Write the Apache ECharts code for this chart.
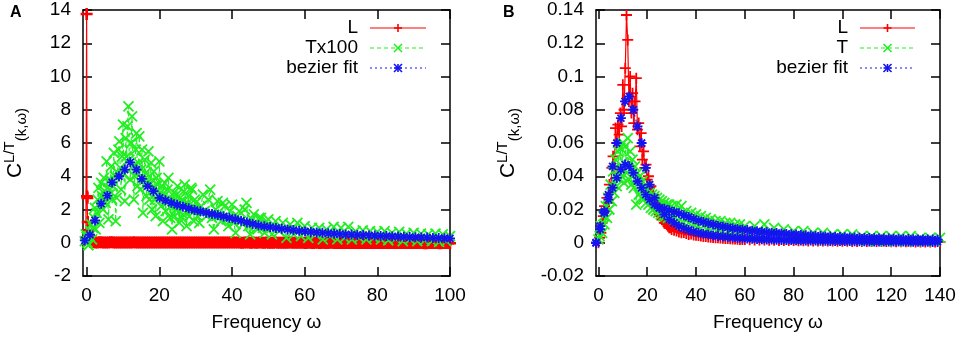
<!DOCTYPE html>
<html>
<head>
<meta charset="utf-8">
<title>C L/T(k,w) spectra</title>
<script src="https://cdn.jsdelivr.net/npm/echarts@6.0.0/dist/echarts.min.js"></script>
<style>
  html, body { margin: 0; padding: 0; background: #fff; }
  #chart { width: 957px; height: 337px; }
</style>
</head>
<body>
<div id="chart"></div>
<script>
// ---- panel A : L and Tx100 ----
const freqLA = [-0.2, 0, 0.1, 0.2, 0.3, 0.4, 0.5,
  1, 1.5, 2, 2.5, 3, 3.5, 4, 4.5, 5, 5.5, 6, 6.5, 7, 7.5, 8, 8.5, 9, 9.5, 10, 10.5,
  11, 11.5, 12, 12.5, 13, 13.5, 14, 14.5, 15, 15.5, 16, 16.5, 17, 17.5, 18, 18.5, 19, 19.5, 20, 20.5,
  21, 21.5, 22, 22.5, 23, 23.5, 24, 24.5, 25, 25.5, 26, 26.5, 27, 27.5, 28, 28.5, 29, 29.5, 30, 30.5,
  31, 31.5, 32, 32.5, 33, 33.5, 34, 34.5, 35, 35.5, 36, 36.5, 37, 37.5, 38, 38.5, 39, 39.5, 40, 40.5,
  41, 41.5, 42, 42.5, 43, 43.5, 44, 44.5, 45, 45.5, 46, 46.5, 47, 47.5, 48, 48.5, 49, 49.5, 50, 50.5,
  51, 51.5, 52, 52.5, 53, 53.5, 54, 54.5, 55, 55.5, 56, 56.5, 57, 57.5, 58, 58.5, 59, 59.5, 60, 60.5,
  61, 61.5, 62, 62.5, 63, 63.5, 64, 64.5, 65, 65.5, 66, 66.5, 67, 67.5, 68, 68.5, 69, 69.5, 70, 70.5,
  71, 71.5, 72, 72.5, 73, 73.5, 74, 74.5, 75, 75.5, 76, 76.5, 77, 77.5, 78, 78.5, 79, 79.5, 80, 80.5,
  81, 81.5, 82, 82.5, 83, 83.5, 84, 84.5, 85, 85.5, 86, 86.5, 87, 87.5, 88, 88.5, 89, 89.5, 90, 90.5,
  91, 91.5, 92, 92.5, 93, 93.5, 94, 94.5, 95, 95.5, 96, 96.5, 97, 97.5, 98, 98.5, 99, 99.5, 100];
const valLA = [0.3, 13.76, 2.8, 2.7, 1.25, 0.75, 0.3,
  0.05, 0.04, 0.03, 0.02, 0.02, 0.03, 0.03, 0.02, 0.01, 0.02, 0.02, 0.03, 0.03, 0.02, 0.02, 0.01, 0.01, 0.02, 0.02, 0.01,
  0.02, 0.01, 0.01, 0.02, 0.03, 0.02, 0.02, 0.01, 0.01, 0.02, 0.02, 0.01, 0.01, 0.02, 0.02, 0.01, 0.02, 0.01, 0.01, 0.02,
  0.02, 0.01, 0.01, 0.01, 0.01, 0.02, 0.01, 0.01, 0.02, 0.01, 0.02, 0.01, 0.01, 0.01, 0.01, 0.02, 0.01, 0.01, 0.02, 0.01,
  0.01, 0.01, 0.02, 0.01, 0.01, 0.01, 0.01, 0.01, 0.02, 0.01, 0.01, 0.01, 0.01, 0.01, 0.01, 0.01, 0.01, 0.01, 0.01, 0.01,
  0.01, 0.01, 0.01, 0, 0, 0.01, 0.01, 0.01, 0, 0, 0.01, 0, 0, 0.01, 0.01, 0, 0, 0.01, 0, 0,
  0, 0, 0.01, 0, 0, 0, 0, 0, 0, 0, 0.01, 0, 0, 0, 0, 0, 0, 0, -0.01, -0.01,
  0, 0, -0.01, -0.01, 0, 0, -0.01, -0.01, 0, -0.01, -0.01, -0.01, 0, 0, -0.01, -0.01, -0.01, -0.01, -0.01, -0.01,
  -0.01, -0.01, -0.01, -0.01, -0.02, -0.02, -0.01, -0.01, -0.01, -0.01, -0.02, -0.02, -0.01, -0.01, -0.02, -0.02, -0.01, -0.01, -0.02, -0.02,
  -0.02, -0.02, -0.01, -0.01, -0.02, -0.02, -0.02, -0.02, -0.01, -0.01, -0.02, -0.02, -0.02, -0.02, -0.02, -0.02, -0.01, -0.01, -0.02, -0.02,
  -0.02, -0.02, -0.02, -0.02, -0.03, -0.03, -0.02, -0.02, -0.02, -0.02, -0.02, -0.02, -0.03, -0.03, -0.02, -0.02, -0.02, -0.02, -0.03];

const freqTA = [-0.5, -0.25, 0, 0.25, 0.5, 0.75, 1, 1.25, 1.5, 1.75, 2, 2.25, 2.5, 2.75, 3, 3.25, 3.5, 3.75, 4, 4.25,
  4.5, 4.75, 5, 5.25, 5.5, 5.75, 6, 6.25, 6.5, 6.75, 7, 7.25, 7.5, 7.75, 8, 8.25, 8.5, 8.75, 9, 9.25,
  9.5, 9.75, 10, 10.25, 10.5, 10.75, 11, 11.25, 11.5, 11.75, 12, 12.25, 12.5, 12.75, 13, 13.25, 13.5, 13.75, 14, 14.25,
  14.5, 14.75, 15, 15.25, 15.5, 15.75, 16, 16.25, 16.5, 16.75, 17, 17.25, 17.5, 17.75, 18, 18.25, 18.5, 18.75, 19, 19.25,
  19.5, 19.75, 20, 20.25, 20.5, 20.75, 21, 21.25, 21.5, 21.75, 22, 22.25, 22.5, 22.75, 23, 23.25, 23.5, 23.75, 24, 24.25,
  24.5, 24.75, 25, 25.25, 25.5, 25.75, 26, 26.25, 26.5, 26.75, 27, 27.25, 27.5, 27.75, 28, 28.25, 28.5, 28.75, 29, 29.25,
  29.5, 29.75, 30,
  30.5, 31, 31.5, 32, 32.5, 33, 33.5, 34, 34.5, 35, 35.5, 36, 36.5, 37, 37.5, 38, 38.5, 39, 39.5, 40,
  40.5, 41, 41.5, 42, 42.5, 43, 43.5, 44, 44.5, 45, 45.5, 46, 46.5, 47, 47.5, 48, 48.5, 49, 49.5, 50,
  51, 52, 53, 54, 55, 56, 57, 58, 59, 60, 61, 62, 63, 64, 65, 66, 67, 68, 69, 70,
  71, 72, 73, 74, 75, 76, 77, 78, 79, 80, 81, 82, 83, 84, 85, 86, 87, 88, 89, 90,
  91, 92, 93, 94, 95, 96, 97, 98, 99, 100];
const valTA = [0.1, 0.5, 0.35, 0.0, -0.15, 0.4, 0.7, 1.1, 0.2, 0.9, 1.5, 2.1, 0.8, 1.8, 2.6, 3.3, 1.2, 2.2, 3.6, 2.8,
  2.0, 3.9, 3.1, 2.4, 4.9, 3.3, 1.4, 2.9, 3.8, 4.6, 2.6, 3.4, 5.4, 4.0, 1.3, 2.7, 4.2, 5.6, 6.1, 4.5,
  3.2, 5.2, 7.1, 4.1, 2.5, 6.3, 5.2, 7.0, 8.2, 5.0, 3.8, 6.0, 7.6, 4.6, 2.6, 4.0, 5.6, 6.6, 3.4, 4.8,
  6.4, 3.2, 4.4, 5.6, 1.8, 3.8, 5.0, 4.2, 2.8, 3.6, 5.5, 2.6, 3.6, 4.8, 2.0, 3.3, 4.3, 2.6, 1.6, 3.9,
  3.5, 2.8, 4.9, 3.0, 2.2, 3.4, 1.3, 2.8, 3.6, 1.9, 2.4, 3.2, 3.9, 2.6, 1.5, 2.2, 0.8, 2.5, 3.0, 1.6,
  2.0, 2.9, 3.4, 2.3, 1.2, 2.7, 2.5, 1.5, 1.7, 3.1, 3.5, 2.2, 1.0, 2.4, 2.8, 1.6, 2.0, 3.3, 3.2, 2.0,
  1.3, 2.6, 2.4,
  1.6, 1.2, 2.2, 2.9, 1.9, 1.6, 2.6, 3.2, 1.5, 0.8, 2.0, 2.5, 1.6, 1.3, 2.4, 2.2, 1.4, 1.0, 1.9, 2.3,
  1.2, 0.6, 1.6, 1.9, 1.3, 1.1, 2.0, 2.4, 1.0, 0.5, 1.4, 1.7, 1.1, 0.8, 1.5, 1.5, 0.9, 0.6, 1.3, 1.4,
  0.5, 1.3, 0.7, 1.2, 0.3, 1.1, 0.5, 1.2, 0.4, 1.0, 0.3, 0.9, 0.5, 0.9, 0.2, 0.8, 0.4, 0.95, 0.2, 0.9,
  0.3, 0.95, 0.2, 0.7, 0.3, 0.75, 0.2, 0.7, 0.3, 0.65, 0.2, 0.7, 0.15, 0.6, 0.25, 0.65, 0.1, 0.55, 0.2, 0.6,
  0.1, 0.55, 0.15, 0.5, 0.1, 0.55, 0.05, 0.5, 0.1, 0.4];

const fitFreqA = [-0.5, 0.9, 2.3, 4.0, 5.7, 7.0, 8.9, 10.5, 12.0, 13.7, 15.2, 16.8, 18.4, 20.1,
  21.7, 23.3, 24.9, 26.5, 28.1, 29.7, 31.3, 32.9, 34.5, 36.1,
  37.7, 39.3, 40.9, 42.5, 44.1, 45.7, 47.3, 48.9, 50.5, 52.1,
  53.7, 55.3, 56.9, 58.5, 60.1, 61.7, 63.3, 64.9, 66.5, 68.1,
  69.7, 71.3, 72.9, 74.5, 76.1, 77.7, 79.3, 80.9, 82.5, 84.1,
  85.7, 87.3, 88.9, 90.5, 92.1, 93.7, 95.3, 96.9, 98.5, 100];
const fitA = [0.14, 0.48, 1.34, 2.35, 2.83, 3.63, 4.0, 4.4, 4.84, 4.4, 3.84, 3.4, 3.1, 2.7,
  2.55, 2.4, 2.28, 2.17, 2.07, 1.97, 1.89, 1.81, 1.73, 1.66,
  1.58, 1.5, 1.42, 1.33, 1.22, 1.13, 1.05, 0.99, 0.94, 0.89,
  0.84, 0.8, 0.76, 0.72, 0.68, 0.65, 0.62, 0.6, 0.57, 0.55,
  0.52, 0.5, 0.49, 0.47, 0.46, 0.44, 0.43, 0.41, 0.4, 0.38,
  0.37, 0.36, 0.34, 0.33, 0.32, 0.31, 0.29, 0.28, 0.27, 0.26];

// ---- panel B : L and T ----
const freqB = [0, 0.5, 1, 1.5, 2, 2.5, 3, 3.5, 4, 4.5, 5, 5.5, 6, 6.5, 7, 7.5, 8, 8.5, 9, 9.5,
  10, 10.5, 11, 11.5, 12, 12.5, 13, 13.5, 14, 14.5, 15, 15.5, 16, 16.5, 17, 17.5, 18, 18.5, 19, 19.5,
  20, 20.5, 21, 21.5, 22, 22.5, 23, 23.5, 24, 24.5, 25, 25.5, 26, 26.5, 27, 27.5, 28, 28.5, 29, 29.5, 30,
  31, 32, 33, 34, 35, 36, 37, 38, 39, 40, 41, 42, 43, 44, 45, 46, 47, 48, 49, 50,
  51, 52, 53, 54, 55, 56, 57, 58, 59, 60,
  62, 64, 66, 68, 70, 72, 74, 76, 78, 80, 82, 84, 86, 88, 90, 92, 94, 96, 98, 100,
  102, 104, 106, 108, 110, 112, 114, 116, 118, 120, 122, 124, 126, 128, 130, 132, 134, 136, 138, 140];
const valLB = [0, 0.003, 0.006, 0.012, 0.016, 0.022, 0.019, 0.027, 0.024, 0.035,
  0.03, 0.045, 0.052, 0.045, 0.069, 0.06, 0.071, 0.065, 0.078, 0.07,
  0.095, 0.08, 0.105, 0.137, 0.122, 0.085, 0.1, 0.078, 0.09, 0.072,
  0.085, 0.099, 0.068, 0.072, 0.058, 0.066, 0.05, 0.055, 0.045, 0.047,
  0.038, 0.04, 0.033, 0.034, 0.028, 0.029, 0.024, 0.023, 0.02, 0.019,
  0.017, 0.016, 0.014, 0.014, 0.012, 0.012, 0.011, 0.01, 0.009, 0.009, 0.008,
  0.0075, 0.007, 0.0065, 0.006, 0.0062, 0.0055, 0.005, 0.0052, 0.0047, 0.0045,
  0.0043, 0.004, 0.0038, 0.0037, 0.0035, 0.0033, 0.0032, 0.003, 0.003, 0.0028,
  0.0027, 0.0026, 0.0025, 0.0024, 0.0023, 0.0022, 0.0021, 0.002, 0.002, 0.0019,
  0.0018, 0.0017, 0.0017, 0.0016, 0.0015, 0.0015, 0.0014, 0.0014, 0.0013, 0.0013,
  0.0012, 0.0012, 0.0011, 0.0011, 0.0011, 0.001, 0.001, 0.001, 0.0009, 0.0009,
  0.0009, 0.0008, 0.0008, 0.0008, 0.0008, 0.0007, 0.0007, 0.0007, 0.0007, 0.0006,
  0.0006, 0.0006, 0.0006, 0.0006, 0.0005, 0.0005, 0.0005, 0.0005, 0.0005, 0.0005];
const valTB = [0.002, 0.004, 0.01, 0.006, 0.016, 0.011, 0.022, 0.015, 0.027, 0.02,
  0.035, 0.025, 0.043, 0.03, 0.05, 0.034, 0.055, 0.038, 0.057, 0.04,
  0.06, 0.036, 0.058, 0.042, 0.063, 0.038, 0.055, 0.035, 0.05, 0.033,
  0.046, 0.023, 0.042, 0.029, 0.04, 0.027, 0.037, 0.026, 0.034, 0.024,
  0.032, 0.023, 0.03, 0.021, 0.029, 0.02, 0.028, 0.019, 0.027, 0.018,
  0.026, 0.017, 0.025, 0.016, 0.024, 0.016, 0.023, 0.015, 0.023, 0.015, 0.022,
  0.014, 0.023, 0.013, 0.022, 0.012, 0.019, 0.012, 0.018, 0.011, 0.017,
  0.01, 0.016, 0.01, 0.015, 0.009, 0.014, 0.009, 0.013, 0.008, 0.013,
  0.007, 0.012, 0.007, 0.012, 0.006, 0.011, 0.006, 0.011, 0.005, 0.01,
  0.005, 0.01, 0.005, 0.011, 0.004, 0.009, 0.004, 0.008, 0.003, 0.007,
  0.003, 0.007, 0.003, 0.006, 0.002, 0.006, 0.002, 0.005, 0.002, 0.005,
  0.002, 0.005, 0.002, 0.004, 0.001, 0.004, 0.001, 0.004, 0.001, 0.004,
  0.001, 0.004, 0.001, 0.004, 0.001, 0.003, 0.001, 0.003, 0.001, 0.003];

const fitFreqB = [-1, 0.7, 2.4, 4.1, 5.8, 7.5, 9.2, 10.9, 12.6, 14.3, 16, 17.7, 19.4,
  21, 23, 25, 27, 29, 31, 33, 35, 37, 39, 41, 43, 45, 47, 49, 51, 53, 55, 57, 59,
  61, 63, 65, 67, 69, 71, 73, 75, 77, 79, 81, 83, 85, 87, 89, 91, 93, 95, 97, 99,
  101, 103, 105, 107, 109, 111, 113, 115, 117, 119, 121, 123, 125, 127, 129, 131, 133, 135, 137, 139];
const fitLB = [0, 0.008, 0.019, 0.029, 0.046, 0.06, 0.075, 0.085, 0.088, 0.08, 0.07, 0.06, 0.045,
  0.035, 0.027, 0.021, 0.017, 0.014, 0.012, 0.01, 0.0088, 0.0077, 0.0068,
  0.006, 0.0054, 0.0049, 0.0044, 0.004, 0.0037, 0.0034, 0.0031, 0.0029, 0.0027,
  0.0025, 0.0024, 0.0022, 0.0021, 0.002, 0.0019, 0.0018, 0.0017, 0.0016, 0.0016,
  0.0015, 0.0014, 0.0014, 0.0013, 0.0013, 0.0012, 0.0012, 0.0011, 0.0011, 0.001,
  0.001, 0.001, 0.0009, 0.0009, 0.0009, 0.0008, 0.0008, 0.0008, 0.0008, 0.0007,
  0.0007, 0.0007, 0.0007, 0.0006, 0.0006, 0.0006, 0.0006, 0.0006, 0.0005, 0.0005];
const fitTB = [0, 0.01, 0.018, 0.026, 0.033, 0.039, 0.044, 0.047, 0.046, 0.042, 0.037, 0.033, 0.029,
  0.026, 0.023, 0.021, 0.0205, 0.0195, 0.0185, 0.0177, 0.0165, 0.0155, 0.0143,
  0.0133, 0.0125, 0.0117, 0.011, 0.0103, 0.0097, 0.0092, 0.0087, 0.0083, 0.0079,
  0.0076, 0.0072, 0.0069, 0.0066, 0.0063, 0.006, 0.0058, 0.0056, 0.0053, 0.0051,
  0.0049, 0.0047, 0.0045, 0.0043, 0.0041, 0.004, 0.0038, 0.0037, 0.0035, 0.0034,
  0.0033, 0.0032, 0.0031, 0.003, 0.0029, 0.0028, 0.0027, 0.0026, 0.0025, 0.0025,
  0.0024, 0.0023, 0.0022, 0.0022, 0.0021, 0.002, 0.002, 0.0019, 0.0019, 0.0018];

const ticksA = [0, 20, 40, 60, 80, 100];
const ticksB = [0, 20, 40, 60, 80, 100, 120, 140];

const red = '#ff0000', green = '#22ee22', blue = '#1414f0', black = '#000';
const font = 'Liberation Sans';
const symbols = {
  plus: 'path://M5,0L5,10M0,5L10,5',
  cross: 'path://M0,0L10,10M10,0L0,10',
  star: 'path://M5,0L5,10M0,5L10,5M1.5,1.5L8.5,8.5M8.5,1.5L1.5,8.5'
};

const pairs = (xs, ys) => xs.map((x, i) => [x, ys[i]]);

function makeX(gridIndex, max, ticks, bottom) {
  return {
    type: 'value', gridIndex: gridIndex, min: -1, max: max,
    position: bottom ? 'bottom' : 'top',
    name: bottom ? 'Frequency ω' : '',
    nameLocation: 'middle', nameGap: 37,
    nameTextStyle: { fontSize: 19, fontFamily: font, color: black },
    axisLine: { onZero: false, lineStyle: { color: black, width: 1.5 } },
    axisTick: { inside: true, length: 9, customValues: ticks, lineStyle: { color: black, width: 1.5 } },
    axisLabel: { show: bottom, customValues: ticks, margin: 10, fontSize: 19, fontFamily: font, color: black },
    splitLine: { show: false }
  };
}

function makeY(gridIndex, min, max, interval, left, gap) {
  return {
    type: 'value', gridIndex: gridIndex, min: min, max: max, interval: interval,
    position: left ? 'left' : 'right',
    name: left ? '{c|C}{sup|L/T}{sub|(k,ω)}' : '',
    nameLocation: 'middle', nameGap: gap,
    nameTextStyle: {
      color: black, fontFamily: font,
      rich: {
        c: { fontSize: 21, lineHeight: 27, fontFamily: font, color: black },
        sup: { fontSize: 15, lineHeight: 15, verticalAlign: 'top', fontFamily: font, color: black },
        sub: { fontSize: 15, lineHeight: 15, verticalAlign: 'bottom', fontFamily: font, color: black }
      }
    },
    axisLine: { onZero: false, lineStyle: { color: black, width: 1.5 } },
    axisTick: { inside: true, length: 9, lineStyle: { color: black, width: 1.5 } },
    axisLabel: { show: left, margin: 12, fontSize: 19, fontFamily: font, color: black },
    splitLine: { show: false }
  };
}

function line(name, xi, yi, data, color, dash, symbol, size, stroke) {
  return {
    name: name, type: 'line', xAxisIndex: xi, yAxisIndex: yi, data: data,
    symbol: symbols[symbol], symbolSize: size || 10, showAllSymbol: true,
    clip: false, silent: true, animation: false,
    lineStyle: { color: color, width: 1.2, type: dash },
    itemStyle: { color: color, borderColor: color, borderWidth: stroke || 1.8 },
    emphasis: { disabled: true }
  };
}

// gnuplot style key: text right aligned, sample line to its right
function key(textRight, x1, x2, rows) {
  const els = [];
  rows.forEach((r, i) => {
    const y = 28 + i * 20;
    const cx = (x1 + x2) / 2;
    els.push({ type: 'text', x: textRight, y: y, style: { text: r.label, align: 'right', verticalAlign: 'middle', font: '19px Liberation Sans', fill: black } });
    els.push({ type: 'line', shape: { x1: x1, y1: y, x2: x2, y2: y }, style: { stroke: r.color, lineWidth: 1.2, lineDash: r.dash } });
    const s = 4;
    if (r.mark !== 'cross') {
      els.push({ type: 'line', shape: { x1: cx - s, y1: y, x2: cx + s, y2: y }, style: { stroke: r.color, lineWidth: 1.6 } });
      els.push({ type: 'line', shape: { x1: cx, y1: y - s, x2: cx, y2: y + s }, style: { stroke: r.color, lineWidth: 1.6 } });
    }
    if (r.mark !== 'plus') {
      els.push({ type: 'line', shape: { x1: cx - s, y1: y - s, x2: cx + s, y2: y + s }, style: { stroke: r.color, lineWidth: 1.6 } });
      els.push({ type: 'line', shape: { x1: cx + s, y1: y - s, x2: cx - s, y2: y + s }, style: { stroke: r.color, lineWidth: 1.6 } });
    }
  });
  return els;
}

const chart = echarts.init(document.getElementById('chart'));
chart.setOption({
  animation: false,
  backgroundColor: '#fff',
  grid: [
    { left: 83, top: 10, width: 367, height: 266, outerBoundsMode: 'none' },
    { left: 596, top: 10, width: 344, height: 266, outerBoundsMode: 'none' }
  ],
  xAxis: [makeX(0, 100, ticksA, true), makeX(0, 100, ticksA, false),
          makeX(1, 140, ticksB, true), makeX(1, 140, ticksB, false)],
  yAxis: [makeY(0, -2, 14, 2, true, 54), makeY(0, -2, 14, 2, false, 0),
          makeY(1, -0.02, 0.14, 0.02, true, 74), makeY(1, -0.02, 0.14, 0.02, false, 0)],
  series: [
    line('L', 0, 0, pairs(freqLA, valLA), red, 'solid', 'plus', 12, 2.6),
    line('Tx100', 0, 0, pairs(freqTA, valTA), green, [4, 3], 'cross'),
    line('bezier fit', 0, 0, pairs(fitFreqA, fitA), blue, [2, 3], 'star'),
    line('L', 2, 2, pairs(freqB, valLB), red, 'solid', 'plus', 11),
    line('T', 2, 2, pairs(freqB, valTB), green, [4, 3], 'cross'),
    line('bezier fit', 2, 2, pairs(fitFreqB, fitLB), blue, [2, 3], 'star'),
    line('bezier fit', 2, 2, pairs(fitFreqB, fitTB), blue, [2, 3], 'star')
  ],
  graphic: {
    elements: [
      { type: 'text', x: 10, y: 13, style: { text: 'A', verticalAlign: 'middle', font: 'bold 16px Liberation Sans', fill: black } },
      { type: 'text', x: 503, y: 13, style: { text: 'B', verticalAlign: 'middle', font: 'bold 16px Liberation Sans', fill: black } }
    ].concat(
      key(358, 370, 426, [
        { label: 'L', color: red, dash: null, mark: 'plus' },
        { label: 'Tx100', color: green, dash: [4, 3], mark: 'cross' },
        { label: 'bezier fit', color: blue, dash: [2, 3], mark: 'star' }
      ]),
      key(848, 860, 915, [
        { label: 'L', color: red, dash: null, mark: 'plus' },
        { label: 'T', color: green, dash: [4, 3], mark: 'cross' },
        { label: 'bezier fit', color: blue, dash: [2, 3], mark: 'star' }
      ])
    )
  }
});
</script>
</body>
</html>
